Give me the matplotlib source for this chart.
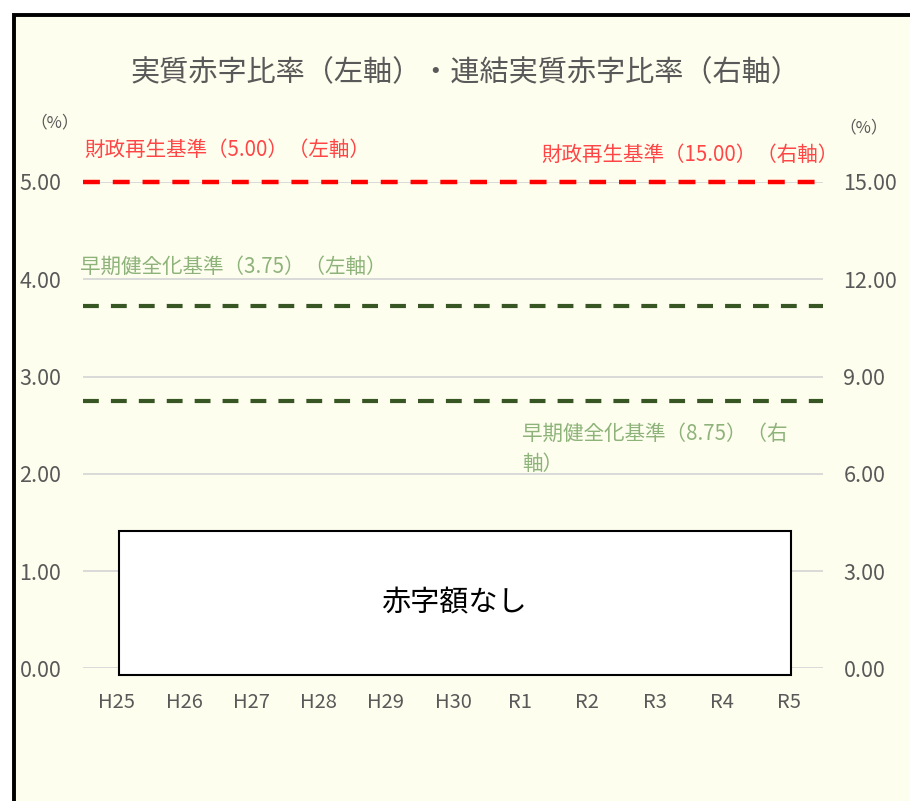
import numpy as np
import matplotlib.pyplot as plt
from matplotlib.patches import Rectangle

plt.rcParams['font.family'] = ['Noto Sans CJK JP', 'DejaVu Sans']

# 年度
years = ['H25', 'H26', 'H27', 'H28', 'H29', 'H30', 'R1', 'R2', 'R3', 'R4', 'R5']
# 基準線（左軸・右軸）
saisei_left = 5.00
kenzen_left = 3.72
kenzen_right = 8.26
left_ticks = [0, 1, 2, 3, 4, 5]
right_ticks = [0, 3, 6, 9, 12, 15]

gray = '#595959'
red = '#FF0000'
red_txt = '#FF4545'
green = '#375623'
green_txt = '#8DB37A'
bg = '#FEFEEE'

fig = plt.figure(figsize=(9.1, 8.01), dpi=100)
fig.patch.set_facecolor('white')
# 外枠
fig.add_artist(Rectangle((14 / 910, -0.05), 1.05, 0.05 + 1 - 15 / 801,
                         transform=fig.transFigure, facecolor=bg,
                         edgecolor='black', linewidth=2.8, zorder=0))

ax = fig.add_axes([83.4 / 910, 1 - 668.3 / 801, 739.2 / 910, 486.3 / 801])
ax.set_facecolor('none')
ax2 = ax.twinx()
ax2.set_facecolor('none')

x = np.arange(len(years))
ax.set_xlim(-0.5, len(years) - 0.5)
ax.set_ylim(0, 5)
ax2.set_ylim(0, 15)

ax.set_yticks(left_ticks)
ax.set_yticklabels([f'{v:.2f}' for v in left_ticks])
ax2.set_yticks(right_ticks)
ax2.set_yticklabels([f'{v:.2f}' for v in right_ticks])
ax.set_xticks(x)
ax.set_xticklabels(years)

for a in (ax, ax2):
    for s in a.spines.values():
        s.set_visible(False)
ax.tick_params(axis='y', length=0, pad=16, labelsize=15.5, labelcolor=gray)
ax2.tick_params(axis='y', length=0, pad=15, labelsize=15.5, labelcolor=gray)
ax.tick_params(axis='x', length=0, pad=17, labelsize=14.5, labelcolor=gray)

ax.grid(axis='y', color='#D9D9D9', linewidth=1.4)
ax.set_axisbelow(True)

dash = (0, (3.8, 2.9))
ax.axhline(saisei_left, color=red, linewidth=3.2, linestyle=dash, zorder=3, clip_on=False)
ax.axhline(kenzen_left, color=green, linewidth=3, linestyle=dash, zorder=3)
ax2.axhline(kenzen_right, color=green, linewidth=3, linestyle=dash, zorder=3)

# 赤字額なし
ax.add_patch(Rectangle((0.048, -0.0138), 0.9086, 0.2961, transform=ax.transAxes,
                       facecolor='white', edgecolor='black', linewidth=1.5,
                       clip_on=False, zorder=5))
ax.text(0.501, 0.134, '赤字額なし', transform=ax.transAxes, ha='center',
        va='center', fontsize=21, color='black', zorder=6)

fig.text(465 / 910, 1 - 73 / 801, '実質赤字比率（左軸）・連結実質赤字比率（右軸）',
         ha='center', va='center', fontsize=21, color=gray)
fig.text(55 / 910, 1 - 123 / 801, '（%）', ha='center', va='center', fontsize=12, color=gray)
fig.text(864 / 910, 1 - 128 / 801, '（%）', ha='center', va='center', fontsize=12, color=gray)

ax.text(-0.49, 5.33, '財政再生基準（5.00）（左軸）', ha='left', va='center',
        fontsize=14.8, color=red_txt, clip_on=False)
ax.text(10.74, 5.28, '財政再生基準（15.00）（右軸）', ha='right', va='center',
        fontsize=14.8, color=red_txt, clip_on=False)
ax.text(-0.55, 4.13, '早期健全化基準（3.75）（左軸）', ha='left', va='center',
        fontsize=14.8, color=green_txt, clip_on=False)
ax.text(6.03, 2.256, '早期健全化基準（8.75）（右\n軸）', ha='left', va='center',
        fontsize=14.8, color=green_txt, linespacing=1.45, clip_on=False)

fig.savefig('out.png', dpi=100, facecolor=fig.get_facecolor())
